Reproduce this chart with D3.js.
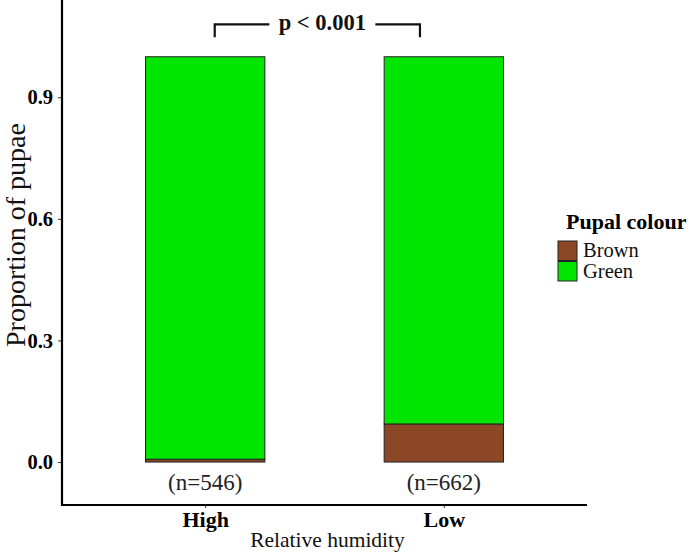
<!DOCTYPE html>
<html>
<head>
<meta charset="utf-8">
<script src="https://cdn.jsdelivr.net/npm/d3@7"></script>
<style>
  body { margin: 0; background: #fff; }
  text { font-family: "Liberation Serif", "Times New Roman", serif; }
</style>
</head>
<body>
<svg id="chart" width="691" height="553"></svg>
<script>
// data
const humidity = ["High", "Low"];
const sampleSizes = [546, 662];
const colours = ["Brown", "Green"];
const brownShare = [0.007, 0.094];
const greenShare = [0.993, 0.906];
const yTicks = [0.0, 0.3, 0.6, 0.9];
const pLabel = "p < 0.001";

const fill = { Brown: "#8b4726", Green: "#00e600" };

const svg = d3.select("#chart");
const panelLeft = 62, panelRight = 587, panelTop = 0, panelBottom = 505;

// discrete x as index positions, ggplot style expansion of 0.6
const x = d3.scaleLinear()
    .domain([-0.6, humidity.length - 1 + 0.6])
    .range([panelLeft, panelRight]);
const y = d3.scaleLinear()
    .domain([-0.106, 1.14])
    .range([panelBottom, panelTop]);
const barHalf = 0.25;

// stack rows
const rows = humidity.map((h, i) => ({ h, i, Brown: brownShare[i], Green: greenShare[i] }));
const series = d3.stack().keys(colours)(rows);

svg.append("g")
    .selectAll("g")
    .data(series)
    .join("g")
    .attr("fill", d => fill[d.key])
    .selectAll("rect")
    .data(d => d)
    .join("rect")
    .attr("x", d => x(d.data.i - barHalf))
    .attr("width", d => x(d.data.i + barHalf) - x(d.data.i - barHalf))
    .attr("y", d => y(d[1]))
    .attr("height", d => y(d[0]) - y(d[1]))
    .attr("stroke", "#222")
    .attr("stroke-width", 1);

// n labels
svg.append("g")
    .selectAll("text")
    .data(sampleSizes)
    .join("text")
    .attr("x", (d, i) => x(i))
    .attr("y", 490)
    .attr("text-anchor", "middle")
    .attr("font-size", 23)
    .attr("fill", "#222")
    .text(d => `(n=${d})`);

// axes
const yAxis = d3.axisLeft(y).tickValues(yTicks).tickFormat(d3.format(".1f")).tickSize(4).tickPadding(5);
const yg = svg.append("g").attr("transform", `translate(${panelLeft},0)`).call(yAxis);
yg.select(".domain").remove();
yg.selectAll("text").attr("font-size", 20.5).attr("font-weight", "bold").attr("fill", "#000")
    .attr("font-family", "Liberation Serif");
yg.selectAll("line").attr("stroke", "#333");

const xAxis = d3.axisBottom(x).tickValues(humidity.map((h, i) => i))
    .tickFormat(i => humidity[i]).tickSize(3);
const xg = svg.append("g").attr("transform", `translate(0,${panelBottom})`).call(xAxis);
xg.select(".domain").remove();
xg.selectAll("text").attr("font-size", 22).attr("font-weight", "bold").attr("fill", "#000")
    .attr("font-family", "Liberation Serif").attr("y", 22).attr("dy", 0);
xg.selectAll("line").attr("stroke", "#333");

svg.append("line")
    .attr("x1", panelLeft).attr("x2", panelLeft).attr("y1", panelTop).attr("y2", panelBottom + 1)
    .attr("stroke", "#000").attr("stroke-width", 2.2);
svg.append("line")
    .attr("x1", panelLeft - 1).attr("x2", panelRight).attr("y1", panelBottom).attr("y2", panelBottom)
    .attr("stroke", "#000").attr("stroke-width", 2.2);

// axis titles
svg.append("text")
    .attr("x", (panelLeft + panelRight) / 2 + 3)
    .attr("y", 547)
    .attr("text-anchor", "middle")
    .attr("font-size", 21.5)
    .attr("fill", "#111")
    .text("Relative humidity");

svg.append("text")
    .attr("transform", "translate(25,235) rotate(-90)")
    .attr("text-anchor", "middle")
    .attr("font-size", 28)
    .attr("fill", "#111")
    .text("Proportion of pupae");

// significance bracket
const bx0 = x(0.04), bx1 = x(1 - 0.1);
const byTop = y(1.08), byTick = y(1.048);
const mid = (bx0 + bx1) / 2;
const bracket = svg.append("g").attr("stroke", "#111").attr("stroke-width", 2.2).attr("fill", "none");
bracket.append("path").attr("d", `M${bx0},${byTick}V${byTop}H${mid - 48}`);
bracket.append("path").attr("d", `M${mid + 58},${byTop}H${bx1}V${byTick}`);
svg.append("text")
    .attr("x", mid + 5)
    .attr("y", byTop + 6)
    .attr("text-anchor", "middle")
    .attr("font-size", 22.5)
    .attr("font-weight", "bold")
    .attr("fill", "#111")
    .text(pLabel);

// legend
const legend = svg.append("g").attr("transform", "translate(558,0)");
legend.append("text")
    .attr("x", 8)
    .attr("y", 229)
    .attr("font-size", 22)
    .attr("font-weight", "bold")
    .attr("fill", "#000")
    .text("Pupal colour");
const keys = legend.selectAll("g.key")
    .data(colours)
    .join("g")
    .attr("class", "key")
    .attr("transform", (d, i) => `translate(0,${241 + i * 20.5})`);
keys.append("rect")
    .attr("width", 19).attr("height", 19.5)
    .attr("fill", d => fill[d])
    .attr("stroke", "#222").attr("stroke-width", 1);
keys.append("text")
    .attr("x", 25)
    .attr("y", 16)
    .attr("font-size", 20.5)
    .attr("fill", "#111")
    .text(d => d);
</script>
</body>
</html>
